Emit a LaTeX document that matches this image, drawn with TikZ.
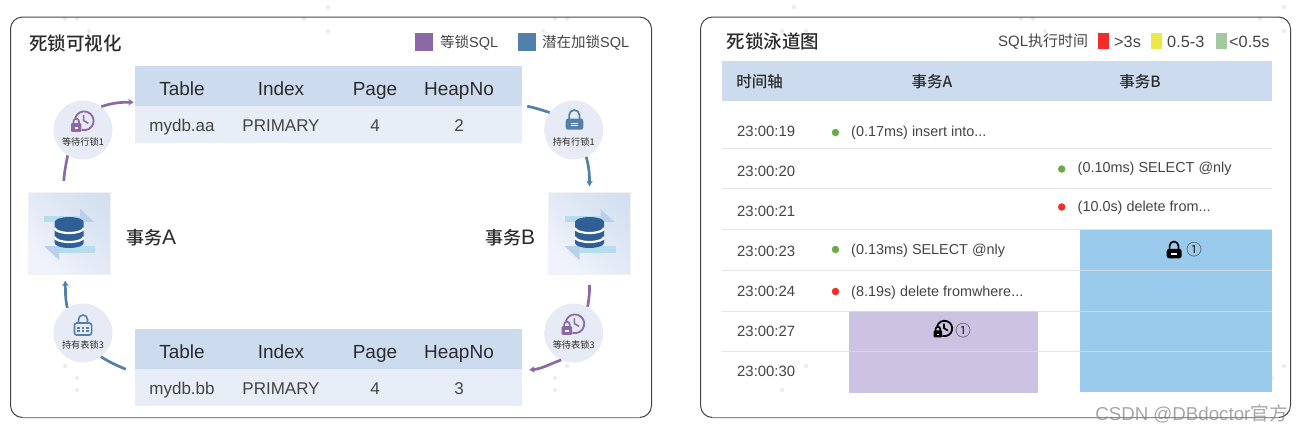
\documentclass[tikz,border=0pt]{standalone}
\usepackage{fontspec}
\usepackage{xcolor}
\usepackage{tikz}
\usetikzlibrary{arrows.meta}
\setmainfont{Liberation Sans}
\newfontfamily\cjk{Noto Sans CJK SC}
\newfontfamily\cjkm{Noto Sans CJK SC Medium}
\newcommand{\fsz}[1]{\fontsize{#1}{#1}\selectfont}
\definecolor{lockpurple}{HTML}{8C69A6}
\definecolor{lockblue}{HTML}{537FAB}
\definecolor{headblue}{HTML}{CCDBEE}
\definecolor{rowblue}{HTML}{E7EEF7}
\definecolor{discblue}{HTML}{E6EBF5}
\definecolor{inkdark}{HTML}{2B2B2B}
\definecolor{inkgray}{HTML}{444444}
\definecolor{blockpurple}{HTML}{CBC3E1}
\definecolor{blockblue}{HTML}{9ACBED}
\definecolor{dbblue}{HTML}{2F5F94}
\definecolor{dbband}{HTML}{B5DCEF}
\definecolor{dbhead}{HTML}{B9D0EA}
\definecolor{tiledark}{HTML}{D5E1F1}
\definecolor{tilelight}{HTML}{F0F3FB}
\definecolor{slowred}{HTML}{F22B2B}
\definecolor{midyellow}{HTML}{EDE84A}
\definecolor{fastgreen}{HTML}{A4C9A0}
\definecolor{dotgreen}{HTML}{6BAA4B}
\begin{document}
\begin{tikzpicture}[x=1pt,y=-1pt,
  panel/.style={draw=inkgray,line width=1pt,rounded corners=12pt},
  paneledge/.style={draw=gray!90,line width=1.4pt},
  speck/.style={fill=black!7,draw=none},
  title/.style={anchor=west,inner sep=0pt,text=inkdark,font=\cjkm\fsz{18.5}},
  legendtext/.style={anchor=west,inner sep=0pt,text=inkgray,font=\fsz{14.5}},
  bigkey/.style={anchor=west,inner sep=0pt,text=inkgray,font=\fsz{16.3}},
  swatch/.style={inner sep=0pt,minimum size=18pt},
  smallswatch/.style={inner sep=0pt,minimum width=11pt,minimum height=16pt},
  headcell/.style={anchor=base,inner sep=0pt,text=inkdark,font=\fsz{19}},
  rowcell/.style={anchor=base,inner sep=0pt,text=inkgray,font=\fsz{17}},
  band/.style={inner sep=0pt,minimum height=40pt,fill=headblue},
  tile/.style={inner sep=0pt,minimum size=82pt,draw=black!5,left color=tiledark,right color=tilelight,shading angle=-45},
  lockdisc/.style={circle,inner sep=0pt,minimum size=59pt,fill=discblue},
  disctext/.style={inner sep=0pt,text=inkdark,font=\cjk\fsz{9.2}},
  actor/.style={anchor=west,inner sep=0pt,text=inkdark,font=\cjkm\fsz{18}},
  waitline/.style={draw=lockpurple,line width=2.7pt},
  holdline/.style={draw=lockblue,line width=2.7pt},
  tip/.style={-{Stealth[length=5.5pt,width=6.5pt]}},
  timecell/.style={anchor=base west,inner sep=0pt,text=inkgray,font=\fsz{14.9}},
  sqlcell/.style={anchor=base west,inner sep=0pt,text=inkgray,font=\fsz{14.4}},
  swimhead/.style={inner sep=0pt,text=inkdark,font=\cjkm\fsz{15.5}},
  gooddot/.style={circle,inner sep=0pt,minimum size=7.5pt,fill=dotgreen},
  baddot/.style={circle,inner sep=0pt,minimum size=7.5pt,fill=slowred},
  rowline/.style={draw=black!13,line width=1pt,opacity=.8},
  pics/dbicon/.style={code={
    \fill[dbband] (-25,-17) rectangle (11,-11);
    \fill[dbhead] (11,-24) -- (25,-11) -- (11,-11) -- cycle;
    \fill[dbband] (-10,13) rectangle (26,20);
    \fill[dbhead] (-25,13) -- (-10,13) -- (-10,27) -- cycle;
    \fill[dbblue] (-14.5,-11) arc[start angle=180,end angle=360,x radius=14.5,y radius=5]
      -- (14.5,10) arc[start angle=0,end angle=180,x radius=14.5,y radius=5] -- cycle;
    \draw[white,line width=2.2pt] (-14.5,-5) arc[start angle=180,end angle=0,x radius=14.5,y radius=5];
    \draw[white,line width=2.2pt] (-14.5,4) arc[start angle=180,end angle=0,x radius=14.5,y radius=5];
  }},
  pics/waiticon/.style={code={
    \begin{scope}[y=1pt]
      \draw[#1,line width=1.8pt] (1.2,9.2) ++(165:9.4) arc[start angle=165,end angle=-105,radius=9.4];
      \draw[#1,line width=1.6pt] (.6,15) -- (.6,9.5) -- (5.4,6.6);
      \draw[#1,line width=1.7pt] (-9.6,6) -- (-9.6,8.5) arc[start angle=180,end angle=0,radius=2.8] -- (-4,6);
      \fill[#1,rounded corners=1pt] (-12,6.8) rectangle (-1.6,-1.8);
      \fill[white] (-8.4,2.8) rectangle (-5,1);
    \end{scope}
  }},
  pics/holdicon/.style={code={
    \begin{scope}[y=1pt]
      \draw[#1,line width=1.7pt] (-4.6,10) -- (-4.6,14.8) arc[start angle=180,end angle=0,radius=5.2] -- (5.8,10);
      \fill[#1,rounded corners=2.4pt] (-8,11.4) rectangle (9.6,.3);
      \fill[white] (-2.6,7) rectangle (4.2,6.2);
      \fill[white] (-2.6,4.8) rectangle (4.2,4);
    \end{scope}
  }},
  pics/tableicon/.style={code={
    \begin{scope}[y=1pt]
      \draw[#1,line width=1.6pt] (-4.5,10) -- (-4.5,13.5) arc[start angle=180,end angle=0,radius=4.5] -- (4.5,10);
      \draw[#1,line width=1.7pt,rounded corners=2.4pt] (-8.6,10) rectangle (8.6,-2);
      \foreach \dotx in {-4.4,0,4.4}{
        \fill[#1] (\dotx-1.2,6) rectangle (\dotx+1.2,4.2);
        \fill[#1] (\dotx-1.2,2.8) rectangle (\dotx+1.2,1);
      }
    \end{scope}
  }}]
  \useasboundingbox (0,0) rectangle (1303,432);
  \foreach \px/\py in {65/19,77/19,89/31,304/19,328/7,328/31,65/366,77/378,77/390,328/366,316/378,
    555/19,567/19,543/31,567/366,555/378,555/390,794/7,782/31,806/31,1021/19,1033/19,1045/31,
    1260/19,1284/7,1284/31,782/366,806/366,782/390,1021/366,1033/378,1033/390,1260/390,1272/378,1284/366}
    \fill[speck] (\px,\py) circle[radius=2.2];
  \draw[panel] (10.5,17) rectangle (651.5,417.5);
  \draw[paneledge] (22,417.5) -- (640,417.5);
  \draw[panel] (700.5,17) rectangle (1290.5,417.5);
  \draw[paneledge] (712,417.5) -- (1279,417.5);

  \node[title] (titleL) at (29,43) {死锁可视化};
  \node[swatch,fill=lockpurple] (swatchWait) at (424,42) {};
  \node[legendtext] (textWait) at (440,43) {{\cjk 等锁}SQL};
  \node[swatch,fill=lockblue] (swatchHold) at (527,42) {};
  \node[legendtext] (textHold) at (542,43) {{\cjk 潜在加锁}SQL};

  \foreach \tname/\ty/\tdb/\theap in {A/66/mydb.aa/2,B/329/mydb.bb/3}{
    \node[inner sep=0pt,minimum width=387pt,minimum height=37pt,fill=rowblue] (row\tname) at (328.5,\ty+58.5) {};
    \node[band,minimum width=387pt] (hdr\tname) at (328.5,\ty+20) {};
    \node[headcell] (hdr\tname a) at (182,\ty+29) {Table};
    \node[headcell] (hdr\tname b) at (281,\ty+29) {Index};
    \node[headcell] (hdr\tname c) at (375,\ty+29) {Page};
    \node[headcell] (hdr\tname d) at (459,\ty+29) {HeapNo};
    \node[rowcell] (row\tname a) at (182,\ty+65.5) {\tdb};
    \node[rowcell] (row\tname b) at (281,\ty+65.5) {PRIMARY};
    \node[rowcell] (row\tname c) at (375,\ty+65.5) {4};
    \node[rowcell] (row\tname d) at (459,\ty+65.5) {\theap};
  }

  \node[tile] (tileA) at (69.2,233) {};
  \node[tile] (tileB) at (589.5,233) {};
  \pic at (tileA) {dbicon};
  \pic at (tileB) {dbicon};
  \node[actor] (nameA) at (126,238) {事务{\fsz{21}\normalfont A}};
  \node[actor] (nameB) at (485,238) {事务{\fsz{21}\normalfont B}};

  \foreach \dname/\dx/\dy/\dtext in {waitA/83/130/等待行锁1,holdA/573.7/130/持有行锁1,
    waitB/573.7/333/等待表锁3,holdB/83/333/持有表锁3}{
    \node[lockdisc] (\dname) at (\dx,\dy) {};
    \node[disctext] (\dname text) at (\dx,\dy+11.5) {\dtext};
  }
  \pic at (waitA) {waiticon=lockpurple};
  \pic at (holdA) {holdicon=lockblue};
  \pic at (waitB) {waiticon=lockpurple};
  \pic at (holdB) {tableicon=lockblue};

  \draw[waitline,shorten <=11pt] (tileA.98.5) to[out=88,in=258] (waitA.239);
  \draw[waitline,tip] (waitA.52) to[out=18,in=180] ([shift={(-1,-4)}]hdrA.south west);
  \draw[holdline] ([shift={(5,0)}]hdrA.south east) to[out=-12,in=162] (holdA.144);
  \draw[holdline,tip] (holdA.295) to[out=-75,in=90] ([shift={(0,-5.5)}]tileB.north);
  \draw[waitline,shorten <=11pt] (tileB.south) to[out=-90,in=80] (waitB.62);
  \draw[waitline,tip] (waitB.245) to[out=200,in=5] ([shift={(7,.7)}]hdrB.south east);
  \draw[holdline] ([shift={(-9,0)}]hdrB.south west) to[out=157,in=-32] (holdB.307);
  \draw[holdline,tip] (holdB.122) to[out=102,in=-88] ([shift={(-4,6.5)}]tileA.south);

  \node[title] (titleR) at (726.5,41) {死锁泳道图};
  \node[legendtext,font=\fsz{15}] (textTime) at (998,42) {SQL{\cjk 执行时间}};
  \node[smallswatch,fill=slowred] (swatchSlow) at (1103.5,41) {};
  \node[bigkey] (textSlow) at (1114,42) {>3s};
  \node[smallswatch,fill=midyellow] (swatchMid) at (1156.5,41) {};
  \node[bigkey] (textMid) at (1167,42) {0.5-3};
  \node[smallswatch,fill=fastgreen] (swatchFast) at (1221.5,41) {};
  \node[bigkey] (textFast) at (1229,42) {<0.5s};

  \node[band,minimum width=550pt] (swimband) at (997,81) {};
  \node[swimhead] (colTime) at (759.5,82) {时间轴};
  \node[swimhead] (colA) at (932,82) {事务A};
  \node[swimhead] (colB) at (1140,82) {事务B};

  \node[inner sep=0pt,minimum width=189pt,minimum height=81.5pt,fill=blockpurple] (blockA) at (943.5,352) {};
  \node[inner sep=0pt,minimum width=192pt,minimum height=162.5pt,fill=blockblue] (blockB) at (1176,310.75) {};
  \foreach \ly in {148,188.5,229.5,270.5,311,351.5}
    \draw[rowline] (722,\ly) -- (1272,\ly);

  \foreach \tnum/\ty in {19/136,20/176,21/216.5,23/256.7,24/296.7,27/336.7,30/376.7}
    \node[timecell] (time\tnum) at (737,\ty) {23:00:\tnum};

  \node[gooddot] (dotA) at (835.5,132.5) {};
  \node[sqlcell] (sqlA) at (851,136) {(0.17ms) insert into...};
  \node[gooddot] (dotB) at (1061.7,169) {};
  \node[sqlcell] (sqlB) at (1077.5,172.3) {(0.10ms) SELECT @nly};
  \node[baddot] (dotC) at (1061.7,207) {};
  \node[sqlcell] (sqlC) at (1077.5,211.7) {(10.0s) delete from...};
  \node[gooddot] (dotD) at (835.5,249.5) {};
  \node[sqlcell] (sqlD) at (851,254.3) {(0.13ms) SELECT @nly};
  \node[baddot] (dotE) at (835.5,291.5) {};
  \node[sqlcell] (sqlE) at (851,296) {(8.19s) delete fromwhere...};

  \pic[scale=.82] at (943.5,336) {waiticon=black};
  \node[inner sep=0pt,text=inkdark,font=\cjk\fsz{15.5}] (markA) at (963,331) {①};
  \pic[scale=.85] at (1173.5,258.5) {holdicon=black};
  \node[inner sep=0pt,text=inkdark,font=\cjk\fsz{15.5}] (markB) at (1194,250) {①};

  \node[anchor=base east,inner sep=0pt,text=gray,opacity=.7,font=\fsz{18.7}] (stamp) at (1288,420) {CSDN @DBdoctor{\cjk 官方}};
\end{tikzpicture}
\end{document}
